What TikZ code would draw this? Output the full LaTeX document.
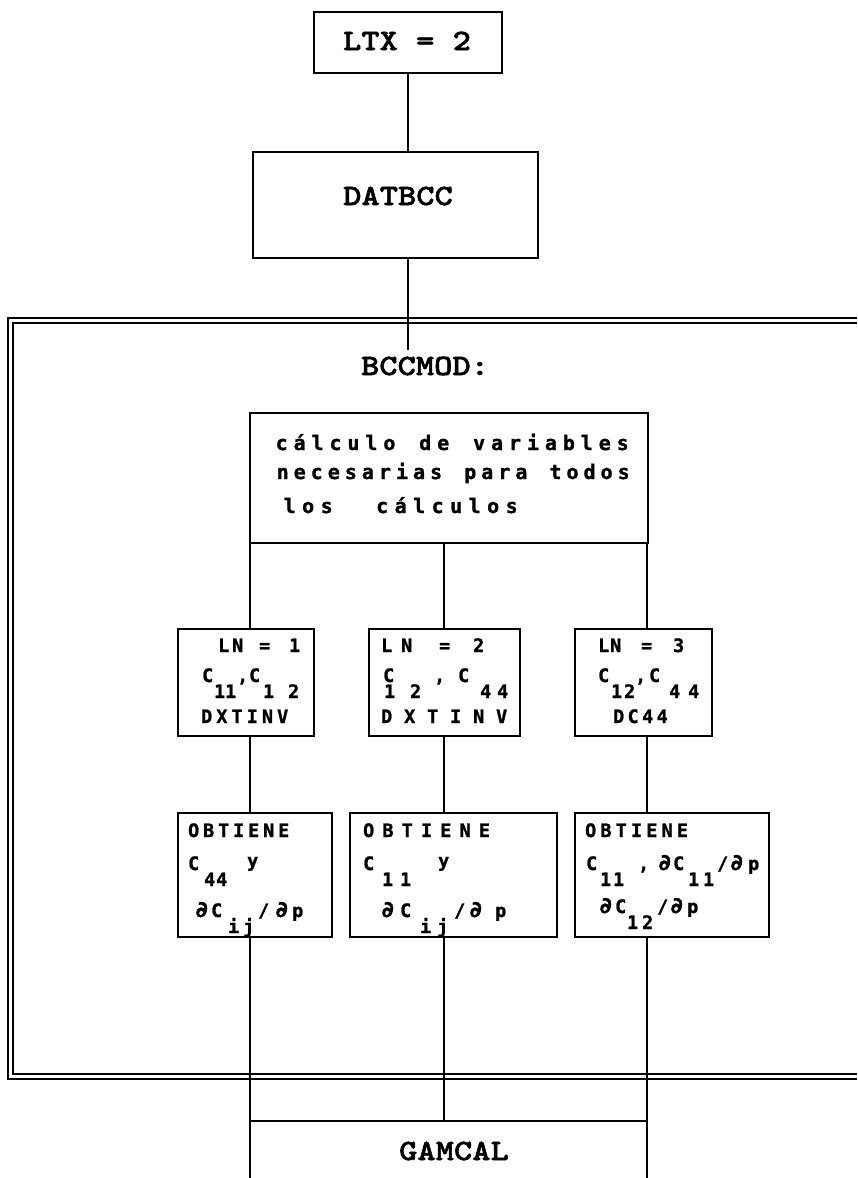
\documentclass[tikz,border=0pt]{standalone}
\usepackage{fontspec}
\newfontfamily\courb{lmmonolt10-bold.otf}[FakeStretch=1.18,FakeBold=1.8]
\newfontfamily\dmbold{DejaVu Sans Mono Bold}[FakeBold=1.2]
\makeatletter
\newcommand\ct[2]{\makebox[0pt][l]{\hspace*{#1pt}\makebox[0pt][c]{#2}}}
\newcommand\run[3]{\makebox[0pt][l]{\hspace*{\dimexpr#1pt-#2pt/2\relax}\@tfor\@ch:=#3\do{\makebox[#2pt][c]{\@ch}}}}
\newcommand\lo[1]{\raisebox{-16pt}{#1}}
\newcommand\pd{\scalebox{1.2}{∂}}
\makeatother
\begin{document}
\begin{tikzpicture}[x=1pt,y=-1pt,
  bx/.style={draw,line width=2.4pt,inner sep=0pt},
  conn/.style={line width=1.9pt},
  frm/.style={line width=1.5pt},
  crt/.style={font=\courb\fontsize{29.5}{29.5}\selectfont,inner sep=0pt,anchor=base},
  dmt/.style={font=\dmbold\fontsize{18.5}{18.5}\selectfont,inner sep=0pt,anchor=base west},
  dmb/.style={dmt,font=\dmbold\fontsize{20}{20}\selectfont}]
\useasboundingbox (0,0) rectangle (857,1178);
\fill[white] (0,0) rectangle (857,1178);
% frame
\draw[frm] (857,318) -- (8,318) -- (8,1079) -- (857,1079);
\draw[frm] (857,323) -- (13,323) -- (13,1074) -- (857,1074);
% boxes
\node[bx,minimum width=188,minimum height=61] (ltx) at (408,42.5) {};
\node[bx,minimum width=285,minimum height=106] (datbcc) at (395.5,205) {};
\node[bx,minimum width=398,minimum height=130] (calc) at (449,478) {};
\node[bx,minimum width=136,minimum height=107] (ln1) at (246,682.5) {};
\node[bx,minimum width=151,minimum height=107] (ln2) at (444.5,682.5) {};
\node[bx,minimum width=137,minimum height=107] (ln3) at (643.5,682.5) {};
\node[bx,minimum width=154,minimum height=124] (ob1) at (255,875) {};
\node[bx,minimum width=207,minimum height=124] (ob2) at (453.5,875) {};
\node[bx,minimum width=194,minimum height=124] (ob3) at (672,875) {};
% coordinates
\coordinate (bcctop) at (408,350);
\coordinate (xl) at (250,0);
\coordinate (xm) at (444,0);
\coordinate (xr) at (647,0);
\coordinate (gl) at (250,1121);
\coordinate (gr) at (647,1121);
\coordinate (el) at (250,1178);
\coordinate (er) at (647,1178);
% connectors
\draw[conn] (ltx.south) -- (ltx.south |- datbcc.north);
\draw[conn] (bcctop |- datbcc.south) -- (bcctop);
\draw[conn] (xl |- calc.south) -- (xl |- ln1.north);
\draw[conn] (xm |- calc.south) -- (xm |- ln2.north);
\draw[conn] (xr |- calc.south) -- (xr |- ln3.north);
\draw[conn] (xl |- ln1.south) -- (xl |- ob1.north);
\draw[conn] (xm |- ln2.south) -- (xm |- ob2.north);
\draw[conn] (xr |- ln3.south) -- (xr |- ob3.north);
\draw[conn] (xl |- ob1.south) -- (el);
\draw[conn] (xm |- ob2.south) -- (xm |- gl);
\draw[conn] (xr |- ob3.south) -- (er);
\draw[conn] (gl) -- (gr);
% courier-like texts
\node[crt] (tltx) at (407,50) {LTX = 2};
\node[crt] (tdat) at (398,205) {DATBCC};
\node[crt] (tbcc) at (425,375) {BCCMOD:};
\node[crt] (gamcal) at (454,1160) {GAMCAL};
% big box text
\node[dmb] (c1) at (0,450) {\run{281}{17.95}{cálculo~de~variables}};
\node[dmb] (c2) at (0,479) {\run{282}{17.05}{necesarias~para~todos}};
\node[dmb] (c3) at (0,513) {\run{289}{18.5}{los~~cálculos}};
% LN 1
\node[dmt] (l1a) at (0,652) {\run{223}{14}{LN}\ct{264}{=}\ct{294}{1}};
\node[dmt] (l1b) at (0,682) {\ct{207}{C}\lo{\ct{219}{1}\ct{230}{1}}\ct{242}{,}\ct{254}{C}\lo{\ct{268}{1}\ct{293}{2}}};
\node[dmt] (l1c) at (0,723) {\run{206}{15.2}{DXTINV}};
% LN 2
\node[dmt] (l2a) at (0,652) {\ct{386}{L}\ct{406}{N}\ct{444}{=}\ct{478}{2}};
\node[dmt] (l2b) at (0,682) {\ct{388}{C}\lo{\ct{389}{1}\ct{415}{2}}\ct{439}{,}\ct{463}{C}\lo{\ct{485}{4}\ct{502}{4}}};
\node[dmt] (l2c) at (0,723) {\run{386}{23}{DXTINV}};
% LN 3
\node[dmt] (l3a) at (0,652) {\ct{603}{L}\ct{615}{N}\ct{646}{=}\ct{678}{3}};
\node[dmt] (l3b) at (0,682) {\ct{603}{C}\lo{\ct{616}{1}\ct{629}{2}}\ct{640}{,}\ct{654}{C}\lo{\ct{674}{4}\ct{693}{4}}};
\node[dmt] (l3c) at (0,723) {\run{618}{14.5}{DC44}};
% OBTIENE 1
\node[dmt] (o1a) at (0,837) {\run{193}{15}{OBTIENE}};
\node[dmt] (o1b) at (0,870) {\ct{193}{C}\lo{\ct{209}{4}\ct{221}{4}}\ct{252}{\raisebox{3pt}{y}}};
\node[dmt] (o1c) at (0,917) {\ct{201}{\pd}\ct{216}{C}\lo{\ct{233}{i}\ct{248}{j}}\ct{263}{/}\ct{281}{\pd}\ct{297}{p}};
% OBTIENE 2
\node[dmt] (o2a) at (0,837) {\run{368}{19.3}{OBTIENE}};
\node[dmt] (o2b) at (0,870) {\ct{368}{C}\lo{\ct{387}{1}\ct{405}{1}}\ct{443}{\raisebox{3pt}{y}}};
\node[dmt] (o2c) at (0,917) {\ct{387}{\pd}\ct{405}{C}\lo{\ct{425}{i}\ct{442}{j}}\ct{459}{/}\ct{475}{\pd}\ct{500}{p}};
% OBTIENE 3
\node[dmt] (o3a) at (0,837) {\run{590}{15.3}{OBTIENE}};
\node[dmt] (o3b) at (0,870) {\ct{591}{C}\lo{\ct{605}{1}\ct{618}{1}}\ct{643}{,}\ct{664}{\pd}\ct{678}{C}\lo{\ct{693}{1}\ct{708}{1}}\ct{722}{/}\ct{736}{\pd}\ct{753}{p}};
\node[dmt] (o3c) at (0,913) {\ct{605}{\pd}\ct{620}{C}\lo{\ct{632}{1}\ct{647}{2}}\ct{662}{/}\ct{676}{\pd}\ct{692}{p}};
\end{tikzpicture}
\end{document}
